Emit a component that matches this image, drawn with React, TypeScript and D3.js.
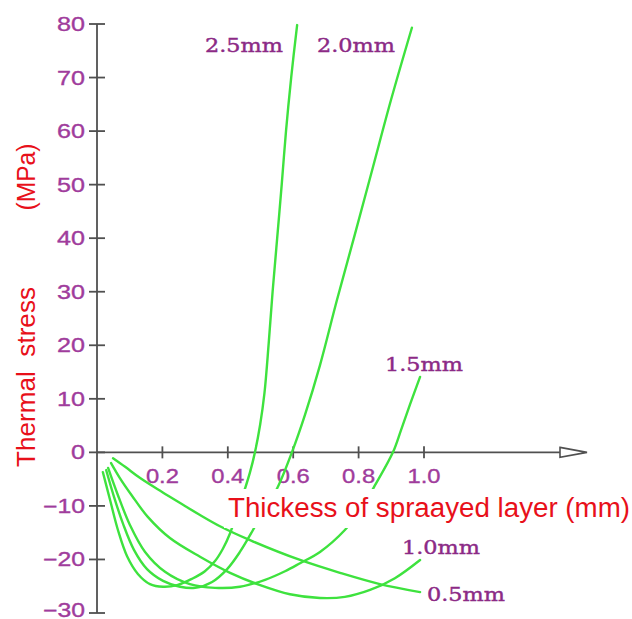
import React from "react";
import * as d3 from "d3";

// ---- data ----
const xTickValues = [0.2, 0.4, 0.6, 0.8, 1.0];
const xTickLabels = ["0.2", "0.4", "0.6", "0.8", "1.0"];
const yTickValues = [-30, -20, -10, 0, 10, 20, 30, 40, 50, 60, 70, 80];
const yTickLabels = ["−30", "−20", "−10", "0", "10", "20", "30", "40", "50", "60", "70", "80"];

const seriesNames = ["2.5mm", "2.0mm", "1.5mm", "1.0mm", "0.5mm"];

const x25 = [0.018, 0.04, 0.064, 0.092, 0.125, 0.162, 0.202, 0.245, 0.291, 0.33, 0.361, 0.385, 0.407, 0.428, 0.453, 0.468, 0.483, 0.499, 0.512, 0.525, 0.537, 0.551, 0.565, 0.578, 0.594, 0.612];
const y25 = [-3.7, -8.9, -14.5, -19.4, -22.7, -24.6, -25.1, -24.8, -23.6, -22.2, -20.3, -18.0, -15.1, -11.3, -6.7, -3.7, 0, 5.2, 11.0, 20.3, 30.0, 40.0, 50.1, 60.0, 70.1, 79.8];

const x20 = [0.028, 0.052, 0.08, 0.113, 0.153, 0.202, 0.254, 0.3, 0.352, 0.398, 0.437, 0.477, 0.514, 0.551, 0.596, 0.636, 0.682, 0.734, 0.789, 0.844, 0.899, 0.963];
const y20 = [-3.3, -8.3, -13.4, -18.2, -21.8, -24.0, -25.1, -25.3, -24.2, -21.8, -18.6, -14.5, -10.4, -6.7, 0, 7.0, 16.3, 28.5, 40.8, 53.3, 65.8, 79.3];

const x15 = [0.034, 0.064, 0.101, 0.147, 0.208, 0.284, 0.361, 0.437, 0.514, 0.575, 0.621, 0.682, 0.758, 0.81, 0.847, 0.905, 0.93, 0.957, 0.988];
const y15 = [-2.9, -8.0, -13.6, -18.6, -22.3, -24.6, -25.3, -25.1, -23.8, -22.2, -20.7, -18.6, -14.5, -10.4, -6.5, 0, 4.2, 8.9, 14.1];

const x10 = [0.043, 0.07, 0.107, 0.156, 0.223, 0.315, 0.407, 0.499, 0.59, 0.682, 0.758, 0.835, 0.911, 0.988];
const y10 = [-2.0, -4.8, -8.1, -12.1, -16.0, -19.5, -22.5, -24.8, -26.5, -27.2, -27.0, -25.7, -23.5, -20.1];

const x05 = [0.049, 0.086, 0.132, 0.199, 0.269, 0.315, 0.376, 0.468, 0.621, 0.743, 0.865, 0.988];
const y05 = [-1.1, -2.7, -4.8, -7.4, -10.0, -11.7, -13.8, -16.4, -20.1, -22.5, -24.6, -26.1];

const seriesX = [x25, x20, x15, x10, x05];
const seriesY = [y25, y20, y15, y10, y05];

// ---- layout / style ----
const W = 632;
const H = 619;
const labelPos = [
  { x: 205, y: 52 },
  { x: 317, y: 52 },
  { x: 385, y: 371 },
  { x: 402, y: 554 },
  { x: 427, y: 601 },
];
const GREEN = "#3ee23e";
const AXIS = "#505050";
const TICK_PURPLE = "#a03c9c";
const LABEL_PURPLE = "#8c2a86";
const RED = "#e8101a";

export default function App() {
  const x = d3.scaleLinear().domain([0, 1]).range([97, 424]);
  const y = d3.scaleLinear().domain([-30, 80]).range([613, 24]);
  const line = d3
    .line<[number, number]>()
    .x((d) => x(d[0]))
    .y((d) => y(d[1]))
    .curve(d3.curveCatmullRom.alpha(0.5));

  const x0 = x(0);
  const y0 = y(0);

  return (
    <svg
      width={W}
      height={H}
      viewBox={`0 0 ${W} ${H}`}
      style={{ position: "absolute", left: 0, top: 0, background: "#fff" }}
    >
      <rect x={0} y={0} width={W} height={H} fill="#fff" />
      {/* y axis */}
      <line x1={x0} x2={x0} y1={y(80)} y2={y(-30)} stroke={AXIS} strokeWidth={1.8} />
      {yTickValues.map((v, i) => (
        <g key={"yt" + v}>
          <line x1={x0 - 8} x2={x0 + 8} y1={y(v)} y2={y(v)} stroke={AXIS} strokeWidth={1.8} />
          <text
            x={85}
            y={y(v)}
            dy={v === -30 ? "0.22em" : "0.36em"}
            textAnchor="end"
            fontFamily="Liberation Sans, Arial, sans-serif"
            fontSize={19.5}
            fill={TICK_PURPLE}
            stroke={TICK_PURPLE}
            strokeWidth={0.35}
            textLength={yTickLabels[i].length === 1 ? 14 : yTickLabels[i].length * 14}
            lengthAdjust="spacingAndGlyphs"
          >
            {yTickLabels[i]}
          </text>
        </g>
      ))}
      {/* x axis */}
      <line x1={x0} x2={560} y1={y0} y2={y0} stroke={AXIS} strokeWidth={1.8} />
      <path
        d={`M560,${y0 - 5}L587,${y0}L560,${y0 + 5}Z`}
        fill="#fff"
        stroke={AXIS}
        strokeWidth={1.6}
      />
      {xTickValues.map((v, i) => (
        <g key={"xt" + v}>
          <line x1={x(v)} x2={x(v)} y1={y0 - 6} y2={y0 + 6} stroke={AXIS} strokeWidth={1.8} />
          <text
            x={x(v)}
            y={483}
            textAnchor="middle"
            fontFamily="Liberation Sans, Arial, sans-serif"
            fontSize={19.5}
            fill={TICK_PURPLE}
            stroke={TICK_PURPLE}
            strokeWidth={0.35}
            textLength={33}
            lengthAdjust="spacingAndGlyphs"
          >
            {xTickLabels[i]}
          </text>
        </g>
      ))}
      {/* curves */}
      {seriesNames.map((name, s) => {
        const pts = seriesX[s].map((vx, j) => [vx, seriesY[s][j]] as [number, number]);
        return (
          <path
            key={name}
            d={line(pts) || ""}
            fill="none"
            stroke={GREEN}
            strokeWidth={2.4}
            strokeLinejoin="round"
            strokeLinecap="round"
          />
        );
      })}
      {/* curve labels */}
      {seriesNames.map((name, s) => (
        <text
          key={"lab" + name}
          x={labelPos[s].x}
          y={labelPos[s].y}
          fontFamily="DejaVu Serif, serif"
          fontSize={18.5}
          fill={LABEL_PURPLE}
          stroke={LABEL_PURPLE}
          strokeWidth={0.4}
          textLength={78}
          lengthAdjust="spacingAndGlyphs"
        >
          {name}
        </text>
      ))}
      {/* x axis title with white background */}
      <rect x={224} y={489} width={408} height={39} fill="#fff" />
      <text
        x={228}
        y={517}
        fontFamily="Liberation Sans, Arial, sans-serif"
        fontSize={27}
        fill={RED}
        textLength={402}
        lengthAdjust="spacingAndGlyphs"
      >
        Thickess of spraayed layer (mm)
      </text>
      {/* y axis titles */}
      <text
        transform={`translate(35,377) rotate(-90)`}
        textAnchor="middle"
        fontFamily="Liberation Sans, Arial, sans-serif"
        fontSize={25}
        fill={RED}
        textLength={180}
        lengthAdjust="spacingAndGlyphs"
        style={{ whiteSpace: "pre" }}
      >
        {"Thermal  stress"}
      </text>
      <text
        transform={`translate(35,177) rotate(-90)`}
        textAnchor="middle"
        fontFamily="Liberation Sans, Arial, sans-serif"
        fontSize={25}
        fill={RED}
        textLength={67}
        lengthAdjust="spacingAndGlyphs"
      >
        (MPa)
      </text>
    </svg>
  );
}
